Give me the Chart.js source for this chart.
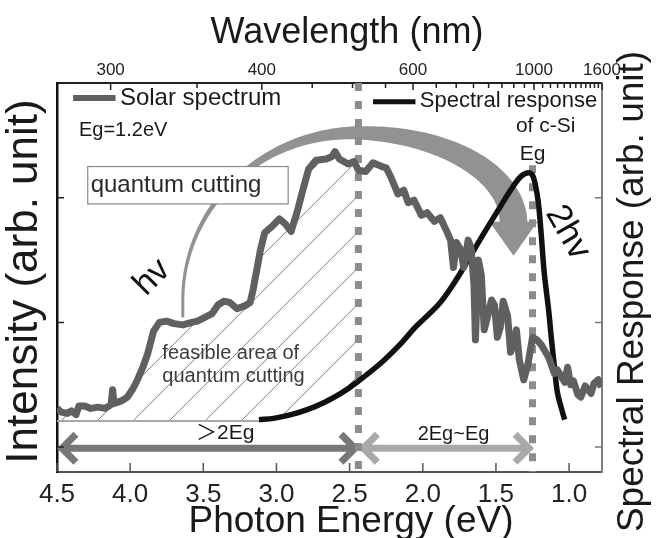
<!DOCTYPE html>
<html>
<head>
<meta charset="utf-8">
<script src="https://cdn.jsdelivr.net/npm/chart.js@4.4.1/dist/chart.umd.min.js"></script>
<style>
  html, body { margin: 0; padding: 0; background: #fff; }
  #wrap { width: 661px; height: 538px; }
</style>
</head>
<body>
<div id="wrap"><canvas id="spectrum" width="661" height="538"></canvas></div>
<script>
// ---------------- data
const energyTicks = [4.5, 4.0, 3.5, 3.0, 2.5, 2.0, 1.5, 1.0];
const wavelengthLabels = [300, 400, 600, 1000, 1600];
const wavelengthMinor = [350, 450, 500, 550, 650, 700, 750, 800, 850, 900, 950,
  1050, 1100, 1150, 1200, 1250, 1300, 1350, 1400, 1450, 1500, 1550];
const intensityTicks = [1, 2, 3];

// AM1.5 solar spectrum (arb. unit) vs photon energy (eV)
const solarEnergy = [4.50, 4.47, 4.43, 4.40, 4.37, 4.35, 4.31, 4.27, 4.22, 4.17,
  4.13, 4.12, 4.11, 4.06, 4.02, 3.98, 3.95, 3.91, 3.88, 3.84,
  3.80, 3.75, 3.70, 3.64, 3.58, 3.54, 3.49, 3.44, 3.40, 3.36,
  3.32, 3.27, 3.22, 3.18, 3.16, 3.13, 3.11, 3.08, 3.03, 2.98,
  2.94, 2.90, 2.86, 2.82, 2.78, 2.73, 2.66, 2.62, 2.60, 2.57,
  2.51, 2.47, 2.44, 2.39, 2.34, 2.28, 2.25, 2.22, 2.17, 2.13,
  2.10, 2.06, 2.01, 1.97, 1.92, 1.88, 1.84, 1.81, 1.79, 1.77,
  1.74, 1.72, 1.69, 1.67, 1.65, 1.64, 1.62, 1.60, 1.58, 1.55,
  1.53, 1.51, 1.49, 1.47, 1.45, 1.42, 1.40, 1.38, 1.36, 1.34,
  1.31, 1.28, 1.25, 1.22, 1.19, 1.14, 1.10, 1.08, 1.05, 1.03,
  1.01, 0.99, 0.97, 0.94, 0.92, 0.89, 0.87, 0.85, 0.83, 0.80, 0.78];
const solarIntensity = [1.31, 1.28, 1.27, 1.29, 1.26, 1.33, 1.33, 1.31, 1.32, 1.31,
  1.34, 1.46, 1.35, 1.37, 1.40, 1.47, 1.54, 1.65, 1.75, 1.93,
  2.00, 2.01, 1.99, 1.98, 2.00, 2.01, 2.04, 2.07, 2.14, 2.17,
  2.16, 2.11, 2.13, 2.16, 2.26, 2.45, 2.58, 2.72, 2.77, 2.83,
  2.79, 2.73, 2.88, 3.06, 3.23, 3.30, 3.31, 3.33, 3.37, 3.31,
  3.27, 3.29, 3.22, 3.21, 3.28, 3.25, 3.24, 3.17, 3.03, 3.06,
  2.96, 2.98, 2.86, 2.88, 2.81, 2.84, 2.74, 2.66, 2.44, 2.64,
  2.58, 2.44, 2.66, 2.60, 2.30, 1.86, 2.50, 2.38, 1.94, 2.08,
  2.18, 2.14, 1.88, 1.96, 2.17, 2.05, 1.76, 1.82, 1.94, 1.70,
  1.54, 1.67, 1.88, 1.86, 1.82, 1.72, 1.59, 1.62, 1.56, 1.52,
  1.64, 1.50, 1.53, 1.42, 1.40, 1.49, 1.46, 1.43, 1.51, 1.54, 1.48];

// spectral response of c-Si (arb. unit)
const siEnergy = [3.12, 3.02, 2.90, 2.79, 2.67, 2.56, 2.45, 2.29, 2.15, 2.06,
  1.99, 1.88, 1.80, 1.72, 1.60, 1.49, 1.40, 1.33, 1.28, 1.25,
  1.23, 1.21, 1.19, 1.17, 1.14, 1.12, 1.10, 1.08, 1.05, 1.03];
const siResponse = [1.22, 1.23, 1.26, 1.30, 1.36, 1.43, 1.52, 1.67, 1.83, 1.95,
  2.03, 2.16, 2.29, 2.44, 2.68, 2.89, 3.06, 3.17, 3.20, 3.18,
  3.10, 2.96, 2.70, 2.40, 2.10, 1.86, 1.64, 1.44, 1.30, 1.22];

const twoEg = 2.44;       // dashed line at 2Eg
const eg = 1.25;          // dashed line at Eg
const hatchFloor = 1.21;  // lower edge of the hatched area

const FONT = "'Liberation Sans', Arial, Helvetica, sans-serif";
const solarColor = '#606060';
const siColor = '#111111';

// ---------------- helpers
function P(chart, e, v) {
  return { x: chart.scales.x.getPixelForValue(e), y: chart.scales.y.getPixelForValue(v) };
}

function valueAt(es, vs, e) {
  for (let i = 1; i < es.length; i++) {
    if (es[i] <= e) {
      const t = (es[i - 1] - e) / (es[i - 1] - es[i]);
      return vs[i - 1] + t * (vs[i] - vs[i - 1]);
    }
  }
  return vs[vs.length - 1];
}

function text(ctx, str, p, size, align, color, rot) {
  ctx.save();
  ctx.font = size + 'px ' + FONT + ", 'Noto Sans CJK SC'";
  ctx.fillStyle = color || '#1a1a1a';
  ctx.textAlign = align || 'center';
  ctx.textBaseline = 'middle';
  ctx.translate(p.x, p.y);
  if (rot) ctx.rotate(rot);
  ctx.fillText(str, 0, 0);
  ctx.restore();
}

// ---------------- hatched "feasible area"
function drawHatch(chart) {
  const ctx = chart.ctx, area = chart.chartArea;
  ctx.save();
  ctx.beginPath();
  let p = P(chart, solarEnergy[0], hatchFloor);
  ctx.moveTo(p.x, p.y);
  for (let i = 0; i < solarEnergy.length && solarEnergy[i] > twoEg; i++) {
    p = P(chart, solarEnergy[i], solarIntensity[i]);
    ctx.lineTo(p.x, p.y);
  }
  p = P(chart, twoEg, valueAt(solarEnergy, solarIntensity, twoEg));
  ctx.lineTo(p.x, p.y);
  p = P(chart, twoEg, valueAt(siEnergy, siResponse, twoEg));
  ctx.lineTo(p.x, p.y);
  for (let i = siEnergy.length - 1; i >= 0; i--) {
    if (siEnergy[i] <= twoEg) continue;
    p = P(chart, siEnergy[i], siResponse[i]);
    ctx.lineTo(p.x, p.y);
  }
  p = P(chart, siEnergy[0], hatchFloor);
  ctx.lineTo(p.x, p.y);
  ctx.closePath();
  ctx.clip();

  const yb = chart.scales.y.getPixelForValue(hatchFloor);
  ctx.strokeStyle = '#7a7a7a';
  ctx.lineWidth = 1;
  ctx.beginPath();
  for (let x0 = area.left + 40 - 36 * 12; x0 < area.right; x0 += 36) {
    ctx.moveTo(x0, yb);
    ctx.lineTo(x0 + 420, yb - 420);
  }
  ctx.stroke();
  ctx.restore();

  // floor line under the hatch
  const a = P(chart, solarEnergy[0], hatchFloor), b = P(chart, siEnergy[0], hatchFloor);
  ctx.save();
  ctx.strokeStyle = '#a8a8a8';
  ctx.lineWidth = 2;
  ctx.beginPath();
  ctx.moveTo(a.x, a.y);
  ctx.lineTo(b.x, b.y);
  ctx.stroke();
  ctx.restore();
}

// ---------------- big curved arrow hv -> 2hv
function drawBigArrow(chart) {
  const ctx = chart.ctx;
  const s = P(chart, 3.64, 2.04);   // foot on the solar curve
  const l = P(chart, 3.64, 2.18);   // leftmost point of the arc
  const t = P(chart, 2.46, 3.52);   // top of the arc
  const e = P(chart, 1.38, 2.80);   // start of the arrow head
  const N = 60;
  const pts = [s];
  for (let i = 0; i <= N; i++) {
    const a = i / N * Math.PI / 2;
    pts.push({ x: t.x - (t.x - l.x) * Math.cos(a), y: l.y - (l.y - t.y) * Math.sin(a) });
  }
  const topIdx = pts.length - 1;
  for (let i = 1; i <= N; i++) {
    const a = i / N * Math.PI / 2;
    pts.push({ x: t.x + (e.x - t.x) * Math.sin(a), y: e.y - (e.y - t.y) * Math.cos(a) });
  }
  const len = [0];
  for (let i = 1; i < pts.length; i++) {
    len.push(len[i - 1] + Math.hypot(pts[i].x - pts[i - 1].x, pts[i].y - pts[i - 1].y));
  }
  const total = len[len.length - 1], topF = len[topIdx] / total;
  const left = [], right = [];
  for (let i = 0; i < pts.length; i++) {
    const f = len[i] / total;
    const w = f < topF ? 3 + 10 * Math.pow(f / topF, 2) : 13 + 15 * (f - topF) / (1 - topF);
    const j0 = Math.max(0, i - 1), j1 = Math.min(pts.length - 1, i + 1);
    let dx = pts[j1].x - pts[j0].x, dy = pts[j1].y - pts[j0].y;
    const d = Math.hypot(dx, dy) || 1;
    dx /= d; dy /= d;
    left.push({ x: pts[i].x - dy * w / 2, y: pts[i].y + dx * w / 2 });
    right.push({ x: pts[i].x + dy * w / 2, y: pts[i].y - dx * w / 2 });
  }
  ctx.save();
  ctx.fillStyle = '#929292';
  ctx.beginPath();
  ctx.moveTo(left[0].x, left[0].y);
  left.forEach(q => ctx.lineTo(q.x, q.y));
  for (let i = right.length - 1; i >= 0; i--) ctx.lineTo(right[i].x, right[i].y);
  ctx.closePath();
  ctx.fill();
  // head
  ctx.beginPath();
  ctx.moveTo(e.x - 24, e.y - 1);
  ctx.lineTo(e.x + 24, e.y - 1);
  ctx.lineTo(e.x, e.y + 33);
  ctx.closePath();
  ctx.fill();
  ctx.restore();
}

function drawQuantumBox(chart) {
  const ctx = chart.ctx;
  const a = P(chart, 4.29, 3.25), b = P(chart, 2.92, 2.95);
  ctx.save();
  ctx.fillStyle = '#fff';
  ctx.strokeStyle = '#8a8a8a';
  ctx.lineWidth = 1.2;
  ctx.fillRect(a.x, a.y, b.x - a.x, b.y - a.y);
  ctx.strokeRect(a.x, a.y, b.x - a.x, b.y - a.y);
  ctx.restore();
  text(ctx, 'quantum cutting', P(chart, 4.27, 3.10), 24, 'left', '#2a2a2a');
}

function doubleArrow(ctx, x1, x2, y, color) {
  const h = 14;
  ctx.save();
  ctx.strokeStyle = color;
  ctx.lineWidth = 7;
  ctx.lineJoin = 'miter';
  ctx.beginPath();
  ctx.moveTo(x1 + 3, y);
  ctx.lineTo(x2 - 3, y);
  ctx.stroke();
  ctx.beginPath();
  ctx.moveTo(x1 + h + 2, y - h);
  ctx.lineTo(x1 + 2, y);
  ctx.lineTo(x1 + h + 2, y + h);
  ctx.moveTo(x2 - h - 2, y - h);
  ctx.lineTo(x2 - 2, y);
  ctx.lineTo(x2 - h - 2, y + h);
  ctx.stroke();
  ctx.restore();
}

function drawRangeArrows(chart) {
  const ctx = chart.ctx;
  const a = P(chart, 4.48, 0.99), b = P(chart, 2.45, 0.99);
  doubleArrow(ctx, a.x, b.x, a.y, '#777777');
  const c = P(chart, 2.42, 0.99), d = P(chart, 1.26, 0.99);
  doubleArrow(ctx, c.x, d.x, c.y, '#a9a9a9');
}

function drawEdgeLines(chart) {
  const ctx = chart.ctx, area = chart.chartArea;
  ctx.save();
  ctx.strokeStyle = '#8c8c8c';
  ctx.lineWidth = 7;
  ctx.setLineDash([8, 10]);
  let x = chart.scales.x.getPixelForValue(twoEg);
  ctx.beginPath();
  ctx.moveTo(x, area.top);
  ctx.lineTo(x, area.bottom);
  x = chart.scales.x.getPixelForValue(eg);
  ctx.moveTo(x, chart.scales.y.getPixelForValue(3.26));
  ctx.lineTo(x, area.bottom);
  ctx.stroke();
  ctx.restore();
}

// inward pointing tick marks on all four sides
function drawInwardTicks(chart) {
  const ctx = chart.ctx, area = chart.chartArea;
  const x = chart.scales.x, y = chart.scales.y;
  ctx.save();
  ctx.lineWidth = 1.5;
  ctx.strokeStyle = '#555';
  ctx.beginPath();
  energyTicks.forEach(v => {
    const px = x.getPixelForValue(v);
    ctx.moveTo(px, area.bottom);
    ctx.lineTo(px, area.bottom - 9);
  });
  ctx.stroke();
  ctx.strokeStyle = '#222';
  ctx.beginPath();
  wavelengthLabels.concat(wavelengthMinor).forEach(l => {
    const px = x.getPixelForValue(1240 / l);
    const len = wavelengthLabels.includes(l) ? 7 : 5;
    ctx.moveTo(px, area.top);
    ctx.lineTo(px, area.top + len);
  });
  ctx.stroke();
  ctx.beginPath();
  intensityTicks.forEach(v => {
    const py = y.getPixelForValue(v);
    ctx.moveTo(area.left, py);
    ctx.lineTo(area.left + 7, py);
  });
  ctx.stroke();
  ctx.strokeStyle = '#777';
  ctx.beginPath();
  intensityTicks.forEach(v => {
    const py = y.getPixelForValue(v);
    ctx.moveTo(area.right, py);
    ctx.lineTo(area.right - 7, py);
  });
  ctx.stroke();
  ctx.restore();
}

function drawTexts(chart) {
  const ctx = chart.ctx, area = chart.chartArea;
  // legend
  ctx.save();
  ctx.lineWidth = 6;
  ctx.strokeStyle = solarColor;
  let a = P(chart, 4.39, 3.80), b = P(chart, 4.10, 3.80);
  ctx.beginPath(); ctx.moveTo(a.x, a.y); ctx.lineTo(b.x, b.y); ctx.stroke();
  ctx.lineWidth = 5;
  ctx.strokeStyle = siColor;
  a = P(chart, 2.34, 3.77); b = P(chart, 2.05, 3.77);
  ctx.beginPath(); ctx.moveTo(a.x, a.y); ctx.lineTo(b.x, b.y); ctx.stroke();
  ctx.restore();
  text(ctx, 'Solar spectrum', P(chart, 4.07, 3.80), 24, 'left');
  text(ctx, 'Spectral response', P(chart, 2.02, 3.78), 22, 'left');
  text(ctx, 'of c-Si', P(chart, 1.16, 3.57), 21, 'center');
  text(ctx, 'Eg', P(chart, 1.25, 3.35), 21, 'center');
  text(ctx, 'Eg=1.2eV', P(chart, 4.35, 3.54), 20, 'left');
  text(ctx, 'hv', P(chart, 3.85, 2.36), 34, 'center', '#111', -Math.PI / 4);
  text(ctx, '2hv', P(chart, 1.01, 2.72), 35, 'center', '#111', Math.PI / 3);
  text(ctx, 'feasible area of', P(chart, 3.78, 1.75), 20, 'left', '#3c3c3c');
  text(ctx, 'quantum cutting', P(chart, 3.78, 1.57), 20, 'left', '#3c3c3c');
  text(ctx, '＞2Eg', P(chart, 3.35, 1.11), 21, 'center');
  text(ctx, '2Eg~Eg', P(chart, 1.79, 1.10), 20, 'center');

  // axis titles; both side titles read bottom-to-top
  const midY = (area.top + area.bottom) / 2;
  text(ctx, 'Wavelength (nm)', { x: area.left + 290, y: area.top - 50 }, 36, 'center');
  text(ctx, 'Photon Energy (eV)', { x: area.left + 294, y: area.bottom + 50 }, 37, 'center');
  text(ctx, 'Intensity (arb. unit)', { x: area.left - 32, y: midY + 4 }, 44, 'center', '#1a1a1a', -Math.PI / 2);
  text(ctx, 'Spectral Response (arb. unit)', { x: area.right + 31, y: midY + 14 },
    37, 'center', '#1a1a1a', -Math.PI / 2);
}

const decorations = {
  id: 'decorations',
  beforeDatasetsDraw(chart) {
    drawHatch(chart);
    drawBigArrow(chart);
    drawQuantumBox(chart);
    drawRangeArrows(chart);
    drawEdgeLines(chart);
  },
  afterDatasetsDraw(chart) {
    drawInwardTicks(chart);
    drawTexts(chart);
  }
};

// ---------------- chart
const solarPoints = solarEnergy.map((e, i) => ({ x: e, y: solarIntensity[i] }));
const siPoints = siEnergy.map((e, i) => ({ x: e, y: siResponse[i] }));

const eMin = 0.775, eMax = 4.5;
const vMin = 0.8, vMax = 3.92;

new Chart(document.getElementById('spectrum'), {
  type: 'line',
  data: {
    datasets: [
      {
        label: 'Solar spectrum',
        data: solarPoints,
        xAxisID: 'x', yAxisID: 'y',
        borderColor: solarColor,
        borderWidth: 7,
        tension: 0,
        pointRadius: 0,
        borderJoinStyle: 'round'
      },
      {
        label: 'Spectral response of c-Si',
        data: siPoints,
        xAxisID: 'x', yAxisID: 'y2',
        borderColor: siColor,
        borderWidth: 5.5,
        tension: 0.35,
        pointRadius: 0
      }
    ]
  },
  options: {
    responsive: false,
    devicePixelRatio: 1,
    animation: false,
    layout: { padding: 0 },
    plugins: { legend: { display: false }, tooltip: { enabled: false } },
    scales: {
      x: {
        type: 'linear', position: 'bottom', min: eMin, max: eMax, reverse: true,
        afterFit: s => { s.height = 66; },
        afterBuildTicks: s => { s.ticks = energyTicks.map(v => ({ value: v })); },
        grid: { display: false, drawTicks: false },
        border: { display: true, color: '#555', width: 2 },
        ticks: { padding: 7, color: '#222', autoSkip: false, maxRotation: 0,
          font: { family: FONT, size: 26 }, callback: v => v.toFixed(1) }
      },
      x2: {
        type: 'linear', position: 'top', min: eMin, max: eMax, reverse: true,
        afterFit: s => { s.height = 83; },
        afterBuildTicks: s => { s.ticks = wavelengthLabels.map(l => ({ value: 1240 / l })); },
        grid: { display: false, drawTicks: false },
        border: { display: true, color: '#222', width: 2 },
        ticks: { padding: 2, color: '#222', autoSkip: false, maxRotation: 0,
          font: { family: FONT, size: 17 }, callback: v => String(Math.round(1240 / v)) }
      },
      y: {
        type: 'linear', position: 'left', min: vMin, max: vMax,
        afterFit: s => { s.width = 57; },
        afterBuildTicks: s => { s.ticks = intensityTicks.map(v => ({ value: v })); },
        grid: { display: false, drawTicks: false },
        border: { display: true, color: '#111', width: 2.5 },
        ticks: { display: false }
      },
      y2: {
        type: 'linear', position: 'right', min: vMin, max: vMax,
        afterFit: s => { s.width = 59; },
        afterBuildTicks: s => { s.ticks = intensityTicks.map(v => ({ value: v })); },
        grid: { display: false, drawTicks: false },
        border: { display: true, color: '#808080', width: 2 },
        ticks: { display: false }
      }
    }
  },
  plugins: [decorations]
});
</script>
</body>
</html>
